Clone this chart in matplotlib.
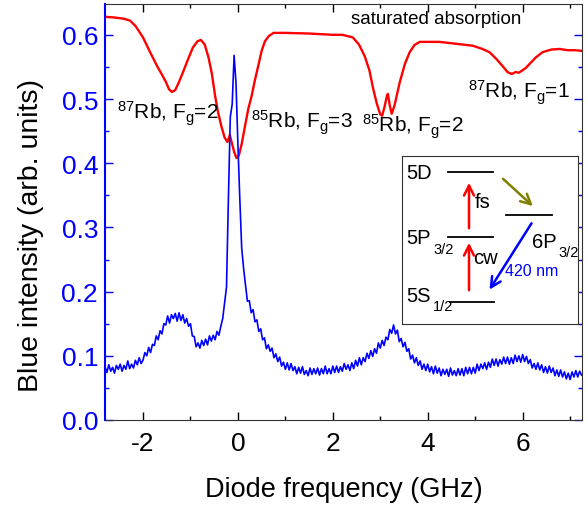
import matplotlib
matplotlib.use('Agg')
from matplotlib import pyplot as plt
from matplotlib.ticker import MultipleLocator, FormatStrFormatter
import numpy as np

plt.rcParams['font.family'] = ['Liberation Sans', 'DejaVu Sans']
plt.rcParams['mathtext.default'] = 'regular'
plt.rcParams['axes.unicode_minus'] = False

# blue fluorescence, one reading every 0.04 GHz from -2.8 GHz (arb. units x 1000)
blue_start = -2.8
blue_step = 0.04
blue_vals = [
    83, 74, 86, 76, 82, 73, 85, 79, 87, 76,
    85, 79, 92, 80, 87, 81, 93, 86, 97, 88,
    93, 105, 100, 113, 105, 118, 116, 131, 125, 139,
    134, 150, 148, 162, 151, 164, 158, 166, 154, 167,
    155, 164, 151, 158, 146, 150, 131, 130, 114, 120,
    112, 124, 116, 126, 117, 131, 123, 132, 125, 138,
    132, 146, 158, 183, 207, 345, 472, 492, 568, 525,
    430, 345, 268, 236, 210, 185, 186, 167, 172, 153,
    156, 138, 142, 125, 128, 111, 117, 107, 112, 97,
    103, 91, 98, 84, 90, 79, 89, 78, 88, 77,
    83, 72, 82, 73, 83, 71, 77, 69, 81, 71,
    80, 72, 81, 70, 80, 72, 84, 72, 80, 72,
    84, 74, 84, 74, 83, 76, 88, 79, 86, 77,
    89, 80, 93, 84, 97, 86, 97, 91, 104, 96,
    108, 99, 111, 104, 120, 112, 124, 116, 129, 125,
    141, 135, 148, 134, 140, 122, 127, 114, 121, 107,
    111, 95, 101, 89, 97, 85, 92, 79, 87, 77,
    87, 75, 83, 72, 84, 73, 81, 69, 79, 71,
    79, 68, 81, 70, 77, 69, 80, 70, 80, 69,
    82, 72, 82, 72, 82, 73, 87, 77, 87, 80,
    89, 79, 90, 82, 95, 85, 95, 84, 94, 87,
    98, 88, 98, 87, 97, 88, 101, 91, 100, 90,
    102, 91, 99, 88, 94, 81, 88, 79, 89, 78,
    86, 74, 83, 73, 84, 74, 81, 69, 78, 68,
    78, 67, 75, 64, 73, 63, 75, 67, 77, 67,
    76, 70,
]

# saturated absorption trace
red_freq = [-2.8, -2.6, -2.4, -2.27, -2.15, -2.0, -1.85, -1.7, -1.6, -1.52,
            -1.45, -1.39, -1.32, -1.25, -1.15, -1.05, -0.95, -0.85, -0.78, -0.7,
            -0.62, -0.55, -0.48, -0.42, -0.35, -0.28, -0.22, -0.17, -0.13, -0.08,
            -0.03, 0.02, 0.08, 0.15, 0.22, 0.29, 0.36, 0.43, 0.5, 0.57,
            0.65, 0.75, 1.0, 1.5, 2.0, 2.2, 2.42, 2.55, 2.67, 2.77,
            2.85, 2.93, 3.0, 3.04, 3.09, 3.14, 3.16, 3.2, 3.24, 3.3,
            3.41, 3.52, 3.62, 3.72, 3.83, 4.25, 4.6, 4.95, 5.15, 5.3,
            5.45, 5.58, 5.68, 5.77, 5.85, 5.92, 5.98, 6.06, 6.15, 6.28,
            6.42, 6.6, 6.78, 6.95, 7.1, 7.25]
red_vals = [0.628, 0.627, 0.625, 0.622, 0.613, 0.596, 0.573, 0.551, 0.538, 0.527,
            0.515, 0.511, 0.514, 0.525, 0.543, 0.562, 0.580, 0.590, 0.592, 0.585,
            0.565, 0.540, 0.505, 0.480, 0.458, 0.440, 0.433, 0.444, 0.432, 0.418,
            0.408, 0.412, 0.430, 0.458, 0.485, 0.505, 0.530, 0.552, 0.575, 0.590,
            0.598, 0.603, 0.603, 0.602, 0.600, 0.600, 0.596, 0.585, 0.567, 0.545,
            0.516, 0.492, 0.476, 0.474, 0.488, 0.505, 0.508, 0.490, 0.477, 0.490,
            0.526, 0.555, 0.573, 0.584, 0.589, 0.589, 0.586, 0.583, 0.578, 0.573,
            0.562, 0.551, 0.542, 0.539, 0.542, 0.541, 0.544, 0.548, 0.555, 0.565,
            0.573, 0.577, 0.578, 0.576, 0.576, 0.575]

blue_y = np.array(blue_vals) / 1000
blue_x = np.round(blue_start + blue_step * np.arange(len(blue_y)), 3)

fig = plt.figure(figsize=(5.87, 5.06), dpi=100)
ax = fig.add_axes([105/587, 85/506, 477/587, 416/506])

ax.plot(red_freq, red_vals, color='#ff0000', linewidth=1.7)
ax.plot(blue_x, blue_y, color='#0000ff', linewidth=1.2)

ax.set_xlim(-2.8, 7.25)
ax.set_ylim(0, 0.648)
ax.xaxis.set_major_locator(MultipleLocator(2))
ax.xaxis.set_minor_locator(MultipleLocator(1))
ax.yaxis.set_major_locator(MultipleLocator(0.1))
ax.yaxis.set_minor_locator(MultipleLocator(0.05))
ax.yaxis.set_major_formatter(FormatStrFormatter('%.1f'))

ax.tick_params(which='both', direction='in', top=True, right=True, width=1)
ax.tick_params(which='major', length=6)
ax.tick_params(which='minor', length=3)
ax.tick_params(axis='x', labelsize=19, pad=8)
ax.tick_params(axis='y', labelsize=19, pad=5, labelcolor='#0000ff')
ax.tick_params(axis='y', which='both', left=True, color='#0000ff')
for s in ['top', 'right', 'bottom']:
    ax.spines[s].set_color('#333333')
ax.spines['left'].set_color('#0000ff')
ax.spines['left'].set_linewidth(1.5)

ax.set_xlabel('Diode frequency (GHz)', fontsize=19.5, labelpad=15)
ax.set_ylabel('Blue intensity (arb. units)', fontsize=20.5)
ax.yaxis.set_label_coords(-0.128, 0.445)

ax.text(2.38, 0.625, 'saturated absorption', fontsize=13.5, va='center')
ax.text(-2.55, 0.469, '$^{87}$Rb, F$_{g}$=2', fontsize=15, va='baseline')
ax.text(0.27, 0.456, '$^{85}$Rb, F$_{g}$=3', fontsize=15, va='baseline')
ax.text(2.61, 0.449, '$^{85}$Rb, F$_{g}$=2', fontsize=15, va='baseline')
ax.text(4.84, 0.502, '$^{87}$Rb, F$_{g}$=1', fontsize=15, va='baseline')

# level scheme inset, drawn in pixel-like units
ins = fig.add_axes([402/587, (506-325)/506, 176/587, 168/506])
ins.set_xlim(402, 578)
ins.set_ylim(325, 157)
ins.set_xticks([])
ins.set_yticks([])
for s in ins.spines.values():
    s.set_color('#333333')

levels = {'5D': (448, 493, 173), '5P': (448, 493, 238),
          '5S': (450, 494, 303), '6P': (506, 552, 216)}
for x0, x1, y in levels.values():
    ins.plot([x0, x1], [y, y], color='black', linewidth=1.3)

arrow = dict(arrowstyle='->', linewidth=1.8, mutation_scale=18)
ins.annotate('', xy=(469, 181), xytext=(469, 232), arrowprops=dict(arrow, color='#ff0000'))
ins.annotate('', xy=(469, 241), xytext=(469, 294), arrowprops=dict(arrow, color='#ff0000'))
ins.annotate('', xy=(535, 209), xytext=(501, 178), arrowprops=dict(arrow, color='#808000'))
ins.annotate('', xy=(488, 293), xytext=(533, 222), arrowprops=dict(arrow, color='#0000ff'))

ins.text(406, 173, '5D', fontsize=14.5, va='center')
ins.text(406, 238, '5P', fontsize=14.5, va='center')
ins.text(433, 250, '3/2', fontsize=10.5, va='center')
ins.text(406, 297, '5S', fontsize=14.5, va='center')
ins.text(433, 307, '1/2', fontsize=10.5, va='center')
ins.text(532, 243, '6P', fontsize=14.5, va='center')
ins.text(558, 253, '3/2', fontsize=10.5, va='center')
ins.text(475, 203, 'fs', fontsize=14.5, va='center')
ins.text(473, 259, 'cw', fontsize=14.5, va='center')
ins.text(505, 272, '420 nm', fontsize=11.5, va='center', color='#0000ff')

fig.savefig('out.png', dpi=100)
